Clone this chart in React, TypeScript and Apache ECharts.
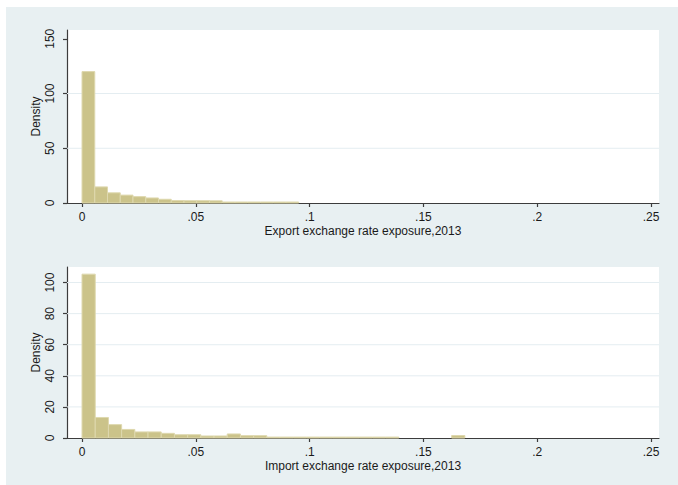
import React, { useEffect, useRef } from "react";
import * as echarts from "echarts";

// ---- data ----
const exportBinWidth = 0.0056;
const exportDensity = [120, 14.7, 9.3, 7.2, 5.8, 4.6, 3.4, 2.2, 2.1, 2.1, 2.0, 0.9, 0.9, 0.9, 0.9, 0.9, 0.9];
const importBinWidth = 0.0058;
const importDensity = [
  105.4, 13.2, 8.6, 5.5, 3.9, 3.9, 3.0, 2.1, 2.1, 1.3, 1.3, 2.6, 1.5, 1.5,
  0.6, 0.6, 0.6, 0.6, 0.6, 0.6, 0.6, 0.6, 0.6, 0.6, 0, 0, 0, 0, 1.6,
];
const xTicks = [0, 0.05, 0.1, 0.15, 0.2, 0.25];
const xTickLabels = ["0", ".05", ".1", ".15", ".2", ".25"];
const exportYTicks = [0, 50, 100, 150];
const exportGrid = [50, 100];
const importYTicks = [0, 20, 40, 60, 80, 100];
const importGrid = [20, 40, 60, 80, 100];
const exportTitle = "Export exchange rate exposure,2013";
const importTitle = "Import exchange rate exposure,2013";
const yTitle = "Density";

const FONT = '"Liberation Sans", Arial, Helvetica, sans-serif';
const AXIS = "#3c3c3c";
const TEXT = "#1a1a1a";

function histData(dens: number[], w: number) {
  return dens.map((d, i) => [i * w, (i + 1) * w, d]);
}

function xLabelFmt(v: number) {
  const idx = xTicks.findIndex((t) => Math.abs(t - v) < 1e-9);
  return idx >= 0 ? xTickLabels[idx] : "";
}

function makeX(gridIndex: number, name: string) {
  return {
    type: "value",
    gridIndex,
    min: -0.0066,
    max: 0.2535,
    name,
    nameLocation: "middle",
    nameGap: 22,
    nameMoveOverlap: false,
    nameTextStyle: { fontFamily: FONT, fontSize: 12, color: TEXT },
    axisLine: { show: true, onZero: false, lineStyle: { color: AXIS, width: 1.2 } },
    axisTick: { show: true, length: 4, customValues: xTicks, lineStyle: { color: AXIS, width: 1.2 } },
    axisLabel: {
      customValues: xTicks,
      formatter: xLabelFmt,
      fontFamily: FONT,
      fontSize: 12,
      color: TEXT,
      margin: 8,
    },
    splitLine: { show: false },
  };
}

function makeY(gridIndex: number, max: number, ticks: number[]) {
  return {
    type: "value",
    gridIndex,
    min: 0,
    max,
    name: yTitle,
    nameLocation: "middle",
    nameRotate: 90,
    nameGap: 25,
    nameMoveOverlap: false,
    nameTextStyle: { fontFamily: FONT, fontSize: 12, color: TEXT },
    axisLine: { show: true, onZero: false, lineStyle: { color: AXIS, width: 1.2 } },
    axisTick: { show: true, length: 4, customValues: ticks, lineStyle: { color: AXIS, width: 1.2 } },
    axisLabel: {
      customValues: ticks,
      rotate: 90,
      fontFamily: FONT,
      fontSize: 12,
      color: TEXT,
      margin: 11,
    },
    splitLine: { show: false },
  };
}

function barSeries(idx: number, data: number[][]) {
  return {
    type: "custom",
    xAxisIndex: idx,
    yAxisIndex: idx,
    z: 3,
    encode: { x: [0, 1], y: 2 },
    data,
    renderItem: (params: any, api: any) => {
      const x0 = api.value(0);
      const x1 = api.value(1);
      const y = api.value(2);
      if (!(y > 0)) return null;
      const p0 = api.coord([x0, y]);
      const p1 = api.coord([x1, 0]);
      return {
        type: "rect",
        shape: { x: p0[0], y: p0[1], width: p1[0] - p0[0], height: p1[1] - p0[1] },
        style: { fill: "#cbc38a", stroke: "#ded8ae", lineWidth: 1 },
      };
    },
  };
}

function gridSeries(idx: number, vals: number[]) {
  return {
    type: "custom",
    xAxisIndex: idx,
    yAxisIndex: idx,
    z: 1,
    silent: true,
    encode: { x: 0, y: 1 },
    data: vals.map((v) => [0, v]),
    renderItem: (params: any, api: any) => {
      const cs = params.coordSys;
      const p = api.coord([0, api.value(1)]);
      return {
        type: "line",
        shape: { x1: cs.x, y1: p[1], x2: cs.x + cs.width, y2: p[1] },
        style: { stroke: "#e4edf1", lineWidth: 1 },
      };
    },
  };
}

export default function App() {
  const ref = useRef<HTMLDivElement>(null);
  useEffect(() => {
    if (!ref.current) return;
    const chart = echarts.init(ref.current, undefined, { renderer: "svg" });
    chart.setOption({
      animation: false,
      backgroundColor: "transparent",
      grid: [
        { left: 67, top: 30, width: 592, height: 173, show: true, backgroundColor: "#ffffff", borderWidth: 0 },
        { left: 67, top: 267, width: 592, height: 171, show: true, backgroundColor: "#ffffff", borderWidth: 0 },
      ],
      xAxis: [makeX(0, exportTitle), makeX(1, importTitle)],
      yAxis: [makeY(0, 158, exportYTicks), makeY(1, 110, importYTicks)],
      series: [
        gridSeries(0, exportGrid),
        gridSeries(1, importGrid),
        barSeries(0, histData(exportDensity, exportBinWidth)),
        barSeries(1, histData(importDensity, importBinWidth)),
      ],
    });
    return () => chart.dispose();
  }, []);
  return (
    <div style={{ position: "fixed", left: 0, top: 0, width: 678, height: 485, background: "#ffffff" }}>
      <div style={{ position: "absolute", left: 6, top: 7, right: 0, bottom: 0, background: "#e8f0f2" }} />
      <div ref={ref} style={{ position: "absolute", left: 0, top: 0, width: 678, height: 485 }} />
    </div>
  );
}
